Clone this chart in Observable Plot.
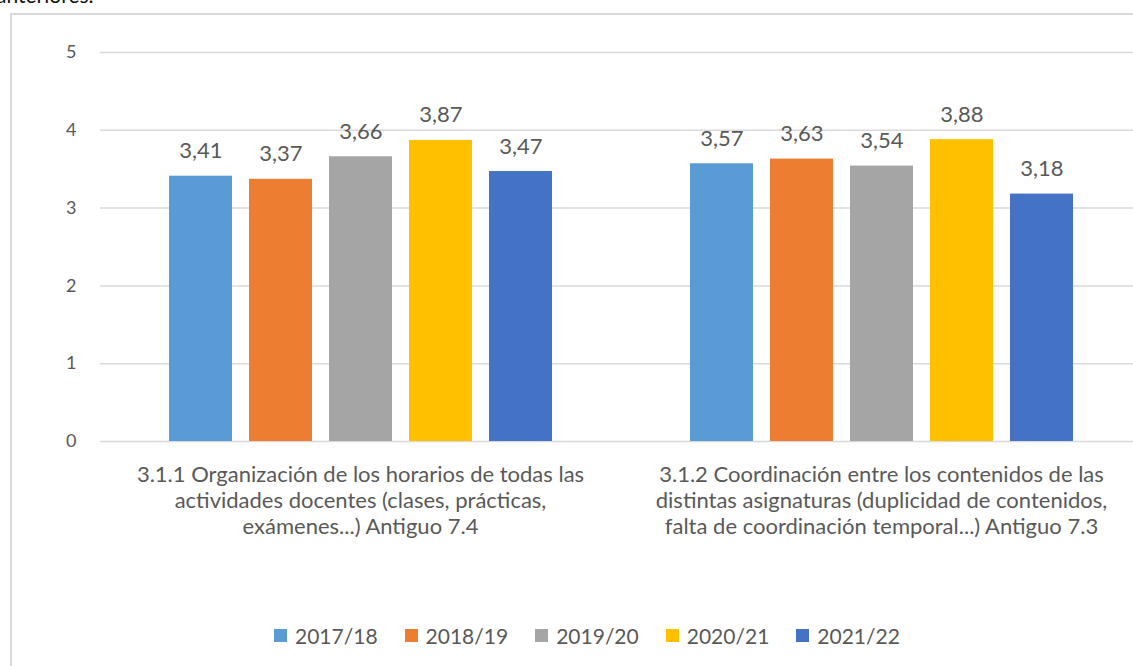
<!DOCTYPE html>
<html>
<head>
<meta charset="utf-8">
<script src="https://cdn.jsdelivr.net/npm/d3@7"></script>
<script src="https://cdn.jsdelivr.net/npm/@observablehq/plot@0.6"></script>
<style>
  html, body { margin: 0; padding: 0; background: #fff; overflow: hidden; }
  #wrap { position: relative; width: 1133px; height: 666px; overflow: hidden; font-family: Lato, "Open Sans", sans-serif; }
  #above { position: absolute; left: -4px; top: -16px; font-size: 21px; line-height: 21px; color: #111; white-space: nowrap; }
  #frame { position: absolute; left: 10px; top: 13px; width: 1200px; height: 800px; border: 2px solid #d9d9d9; box-sizing: border-box; }
  .layer { position: absolute; left: 0; top: 0; }
  #legend { position: absolute; left: 274px; top: 623px; display: flex; align-items: center; font-size: 21px; color: #595959; }
  #legend .item { display: flex; align-items: center; margin-right: 27px; }
  #legend .sw { width: 13px; height: 13px; margin-right: 8px; }
</style>
</head>
<body>
<div id="wrap">
  <div id="above">anteriores.</div>
  <div id="frame"></div>
  <div id="grid" class="layer"></div>
  <div id="chart" class="layer"></div>
  <div id="legend"></div>
</div>
<script>
const years = ["2017/18", "2018/19", "2019/20", "2020/21", "2021/22"];
const colors = ["#5B9BD5", "#ED7D31", "#A5A5A5", "#FFC000", "#4472C4"];
const groupIds = ["3.1.1", "3.1.2"];
const groupLabels = [
  "3.1.1 Organización de los horarios de todas las\nactividades docentes (clases, prácticas,\nexámenes...) Antiguo 7.4",
  "3.1.2 Coordinación entre los contenidos de las\ndistintas asignaturas (duplicidad de contenidos,\nfalta de coordinación temporal...) Antiguo 7.3"
];
const scores311 = [3.41, 3.37, 3.66, 3.87, 3.47];
const scores312 = [3.57, 3.63, 3.54, 3.88, 3.18];
const yTicks = [0, 1, 2, 3, 4, 5];

const seriesByGroup = [scores311, scores312];
const data = groupIds.flatMap((g, i) => years.map((y, j) => ({group: g, year: y, value: seriesByGroup[i][j]})));
const groups = groupIds.map((id, i) => ({id, label: groupLabels[i]}));
const fmt = v => v.toFixed(2).replace(".", ",");
const textColor = "#595959";

const common = {
  width: 1142,
  height: 560,
  marginLeft: 100,
  marginRight: 0,
  marginTop: 52,
  marginBottom: 119,
  style: {fontFamily: "Lato, 'Open Sans', sans-serif", background: "transparent", maxWidth: "none", color: textColor},
  y: {domain: [0, 5], axis: null}
};

// background layer: gridlines and y axis across the whole plot area
const gridPlot = Plot.plot({
  ...common,
  marks: [
    Plot.ruleY(yTicks, {stroke: "#d9d9d9", strokeWidth: 1.5}),
    Plot.axisY(yTicks, {tickSize: 0, tickPadding: 24, fontSize: 18, fill: textColor, tickFormat: d => String(d)})
  ]
});
document.getElementById("grid").appendChild(gridPlot);

// foreground layer: grouped bars, value labels, category labels
const barPlot = Plot.plot({
  ...common,
  fx: {domain: groupIds, paddingInner: 0.232, paddingOuter: 0.116, axis: null},
  x: {domain: years, paddingInner: 0.2125, paddingOuter: 0.106, axis: null},
  color: {domain: years, range: colors},
  marks: [
    Plot.barY(data, {fx: "group", x: "year", y: "value", fill: "year"}),
    Plot.text(data, {fx: "group", x: "year", y: "value", text: d => fmt(d.value), dy: -25, fontSize: 22, fill: textColor}),
    Plot.text(groups, {fx: "id", text: "label", frameAnchor: "bottom", lineAnchor: "top", dy: 22, lineHeight: 1.18, fontSize: 22, fill: textColor})
  ]
});
document.getElementById("chart").appendChild(barPlot);

const legend = document.getElementById("legend");
years.forEach((y, i) => {
  const item = document.createElement("div");
  item.className = "item";
  const sw = document.createElement("div");
  sw.className = "sw";
  sw.style.background = colors[i];
  const label = document.createElement("span");
  label.textContent = y;
  item.appendChild(sw);
  item.appendChild(label);
  legend.appendChild(item);
});
</script>
</body>
</html>
